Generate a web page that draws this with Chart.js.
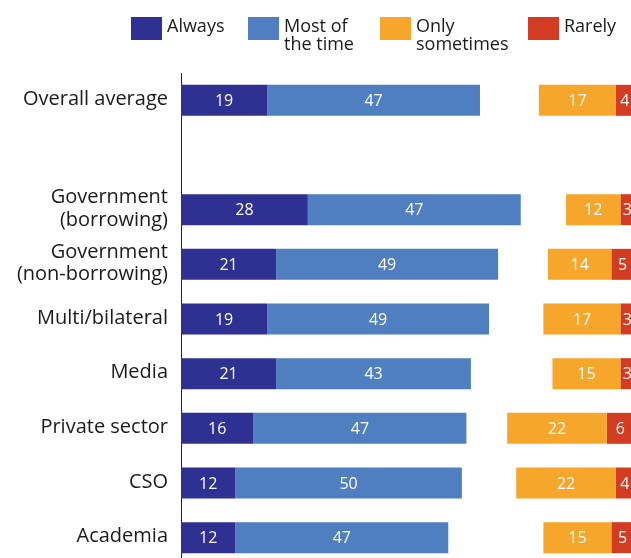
<!DOCTYPE html>
<html>
<head>
<meta charset="utf-8">
<script src="https://cdn.jsdelivr.net/npm/chart.js@4"></script>
<style>
  html, body { margin: 0; padding: 0; background: #fff; overflow: hidden; }
  #wrap { width: 634px; height: 565px; }
</style>
</head>
<body>
<div id="wrap"><canvas id="myChart" width="634" height="565"></canvas></div>
<script>
// rows, top to bottom; the empty string is a spacer row
const categories = [
  'Overall average',
  '',
  ['Government', '(borrowing)'],
  ['Government', '(non-borrowing)'],
  'Multi/bilateral',
  'Media',
  'Private sector',
  'CSO',
  'Academia'
];

const always    = [19, null, 28, 21, 19, 21, 16, 12, 12];
const mostTime  = [47, null, 47, 49, 49, 43, 47, 50, 47];
const sometimes = [17, null, 12, 14, 17, 15, 22, 22, 15];
const rarely    = [ 4, null,  3,  5,  3,  3,  6,  4,  5];

const seriesNames = ['Always', ['Most of', 'the time'], ['Only', 'sometimes'], 'Rarely'];
const colors = ['#2e3192', '#4f7fc1', '#f5a62b', '#d13c23'];

// the "rarely / sometimes" block is right-aligned against this end
const RIGHT_END = 100;

const FONT = '"Open Sans", "Noto Sans", sans-serif';

// floating bars: [start, end]
const alwaysBars = always.map(v => v == null ? null : [0, v]);
const mostBars = mostTime.map((v, i) => v == null ? null : [always[i], always[i] + v]);
const sometimesBars = sometimes.map((v, i) => v == null ? null : [RIGHT_END - rarely[i] - v, RIGHT_END - rarely[i]]);
const rarelyBars = rarely.map(v => v == null ? null : [RIGHT_END - v, RIGHT_END]);
const rawValues = [always, mostTime, sometimes, rarely];

// white value text centred in each segment
const segmentLabels = {
  id: 'segmentLabels',
  afterDatasetsDraw(chart) {
    const ctx = chart.ctx;
    ctx.save();
    ctx.font = '16px ' + FONT;
    ctx.fillStyle = '#fff';
    ctx.textAlign = 'center';
    ctx.textBaseline = 'middle';
    chart.data.datasets.forEach((ds, di) => {
      const meta = chart.getDatasetMeta(di);
      meta.data.forEach((bar, i) => {
        const v = rawValues[di][i];
        if (v == null) return;
        ctx.fillText(String(v), (bar.x + bar.base) / 2, bar.y + 1);
      });
    });
    ctx.restore();
  }
};

// category names, right-aligned left of the axis, sitting a touch above bar centre
const rowLabels = {
  id: 'rowLabels',
  afterDraw(chart) {
    const ctx = chart.ctx;
    const y = chart.scales.y;
    const lineH = 22.5;
    ctx.save();
    ctx.font = '20px ' + FONT;
    ctx.fillStyle = '#1a1a1a';
    ctx.textAlign = 'right';
    ctx.textBaseline = 'alphabetic';
    categories.forEach((label, i) => {
      const lines = Array.isArray(label) ? label : [label];
      const cy = y.getPixelForValue(i) - 2.5;
      lines.forEach((line, k) => {
        const off = (k - (lines.length - 1) / 2) * lineH;
        ctx.fillText(line, chart.chartArea.left - 13, cy + 7.2 + off);
      });
    });
    ctx.restore();
  }
};

// legend across the top, labels may wrap onto two lines
const legendX = [131, 248, 380, 528];
const topLegend = {
  id: 'topLegend',
  afterDraw(chart) {
    const ctx = chart.ctx;
    ctx.save();
    ctx.font = '18px ' + FONT;
    ctx.textAlign = 'left';
    ctx.textBaseline = 'alphabetic';
    seriesNames.forEach((name, i) => {
      const x = legendX[i];
      ctx.fillStyle = colors[i];
      ctx.fillRect(x, 17, 31, 23);
      ctx.fillStyle = '#1a1a1a';
      const lines = Array.isArray(name) ? name : [name];
      lines.forEach((line, k) => ctx.fillText(line, x + 36, 32 + k * 18));
    });
    ctx.restore();
  }
};

const data = {
  labels: categories,
  datasets: [
    { label: 'Always', data: alwaysBars, backgroundColor: colors[0] },
    { label: 'Most of the time', data: mostBars, backgroundColor: colors[1] },
    { label: 'Only sometimes', data: sometimesBars, backgroundColor: colors[2] },
    { label: 'Rarely', data: rarelyBars, backgroundColor: colors[3] }
  ]
};

const config = {
  type: 'bar',
  data: data,
  options: {
    indexAxis: 'y',
    responsive: false,
    animation: false,
    layout: { padding: { top: 73, left: 0, right: 0, bottom: 0 } },
    datasets: {
      bar: { barPercentage: 1, categoryPercentage: 0.567, grouped: false, borderWidth: 0 }
    },
    scales: {
      x: { display: false, min: 0, max: RIGHT_END },
      y: {
        afterFit(scale) {
          scale.width = 181;
          scale.paddingTop = 0;
          scale.paddingBottom = 0;
        },
        grid: { display: false, drawTicks: false },
        border: { display: true, color: '#222', width: 1 },
        ticks: { display: false }
      }
    },
    plugins: {
      legend: { display: false },
      tooltip: { enabled: false }
    }
  },
  plugins: [segmentLabels, rowLabels, topLegend]
};

const myChart = new Chart(document.getElementById('myChart'), config);
</script>
</body>
</html>
